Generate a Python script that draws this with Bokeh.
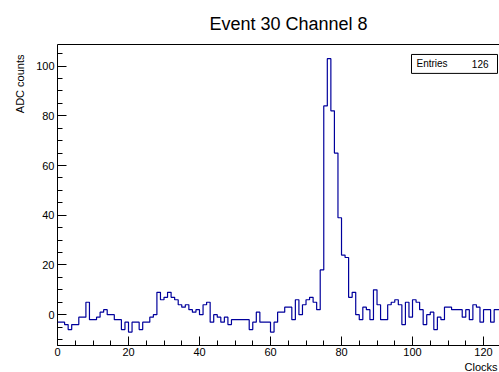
from bokeh.plotting import figure
from bokeh.models import (Range1d, SingleIntervalTicker, FixedTicker, LinearAxis, Label,
                          BoxAnnotation, Title)
from bokeh.embed import file_html
from bokeh.resources import INLINE

# ---- data ----
clock_edges = list(range(0, 127))          # bin edges 0..126
adc_counts = [
    -3, -3, -4, -6, -4, -4, -1, -1, 5, -2,
    -2, -1, 1, 2, 0, 0, -2, -2, -6, -3,
    -7, -3, -3, -6, -3, -3, -1, 0, 9, 6,
    7, 9, 7, 6, 4, 3, 4, 2, 1, 2,
    0, 4, 5, -3, 0, -1, -3, -1, -4, -2,
    -2, -2, -2, -2, -6, -3, 1, -3, -3, -3,
    -7, -3, 1, 1, 3, 3, -2, 6, 0, 4,
    6, 7, 5, 2, 18, 84, 103, 82, 65, 39,
    24, 23, 7, 9, 0, -2, 3, 2, -2, 10,
    4, -2, -2, 4, 5, 6, 4, -4, 5, -1,
    6, 5, 2, -4, 0, 1, -6, -1, -2, 3,
    3, 2, 2, 2, -1, 2, -2, 4, 3, -3,
    2, 2, -3, 2, 2, 1,
]
title_text = "Event 30 Channel 8"
x_title = "Clocks"
y_title = "ADC counts"
entries = len(adc_counts)

# ---- layout ----
FONT = "Liberation Sans"
LINE = "#00009c"
W, H = 499, 372
BL, BT, BB = 57, 43, 27
FW, FH = W - BL, H - BT - BB
X0, X1 = 0, 124.5
Y0, Y1 = -12.4, 108.7
sx = FW / (X1 - X0)
sy = FH / (Y1 - Y0)

def dx(px):  # px from frame left -> data x
    return X0 + px / sx

def dy(px):  # px from frame top -> data y
    return Y1 - px / sy

p = figure(width=W, height=H, x_range=Range1d(X0, X1), y_range=Range1d(Y0, Y1),
           output_backend="svg", toolbar_location=None,
           min_border_left=BL, min_border_right=0, min_border_top=BT, min_border_bottom=BB)
p.grid.visible = False
p.outline_line_color = None
p.background_fill_color = "white"
p.border_fill_color = "white"

for ax in (p.xaxis, p.yaxis):
    ax.ticker = SingleIntervalTicker(interval=20, num_minor_ticks=4)
    ax.major_tick_in = 9
    ax.major_tick_out = 0
    ax.minor_tick_in = 5
    ax.minor_tick_out = 0
    ax.axis_line_color = "black"
    ax.major_tick_line_color = "black"
    ax.minor_tick_line_color = "black"
    ax.major_label_text_font = FONT
    ax.major_label_text_font_size = "11px"
    ax.major_label_text_color = "black"
    ax.major_label_standoff = 3
p.xaxis.major_label_standoff = 2

top = LinearAxis(ticker=FixedTicker(ticks=[]), major_tick_in=0, major_tick_out=0,
                 minor_tick_in=0, minor_tick_out=0, axis_line_color="black")
p.add_layout(top, "above")

p.step(x=clock_edges, y=adc_counts + [adc_counts[-1]], mode="after",
       line_color=LINE, line_width=1.2)

# main title
p.title.text = title_text
p.title.text_font = FONT
p.title.text_font_size = "18px"
p.title.text_font_style = "normal"
p.title.text_color = "black"
p.title.align = "left"
p.title.offset = 152
if "standoff" in p.title.properties():
    p.title.standoff = 22

# axis titles (ROOT style: placed at the far end of each axis)
ytitle = Title(text=y_title, align="right", offset=10, text_font=FONT,
               text_font_size="11px", text_font_style="normal", text_color="black")
xtitle = Title(text=x_title, align="right", offset=2, text_font=FONT,
               text_font_size="11px", text_font_style="normal", text_color="black")
for t, s in ((ytitle, 15), (xtitle, 0)):
    if "standoff" in t.properties():
        t.standoff = s
p.add_layout(ytitle, "left")
p.add_layout(xtitle, "below")

# stats box
p.add_layout(BoxAnnotation(left=dx(354), right=dx(440), top=dy(10), bottom=dy(29),
                           fill_color="white", fill_alpha=1, line_color="black",
                           line_width=1, line_alpha=1))
p.add_layout(Label(x=dx(359), y=dy(19.5), text="Entries", text_font=FONT,
                   text_font_size="10px", text_align="left", text_baseline="middle",
                   text_color="black"))
p.add_layout(Label(x=dx(431), y=dy(19.5), text=str(entries), text_font=FONT,
                   text_font_size="10px", text_align="right", text_baseline="middle",
                   text_color="black"))

open("out.html", "w").write(file_html(p, INLINE))
